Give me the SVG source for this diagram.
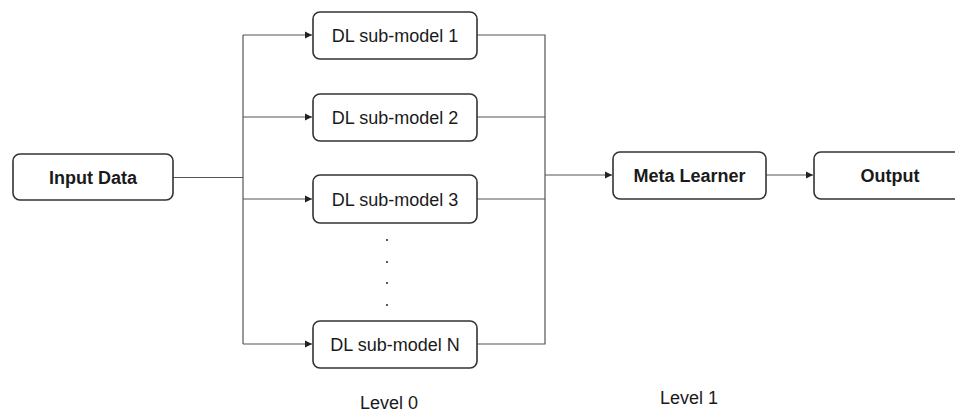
<svg xmlns="http://www.w3.org/2000/svg" width="955" height="413" viewBox="0 0 955 413">
<style>
.box{fill:#fff;stroke:#333;stroke-width:1.6}
.t{font-family:"Liberation Sans",Arial,sans-serif;font-size:18px;fill:#1a1a1a;text-anchor:middle}
.b{font-weight:bold}
.c{fill:none;stroke:#555;stroke-width:1.2}
.dot{fill:#222}
</style>
<defs>
<marker id="ah" markerWidth="8" markerHeight="8" refX="7" refY="4" orient="auto" markerUnits="userSpaceOnUse">
<path d="M0,0.5 L7,4 L0,7.5 Z" fill="#222"/>
</marker>
</defs>
<rect width="955" height="413" fill="#fff"/>
<g id="connectors">
<path class="c" d="M173,177.5 H243"/>
<path class="c" d="M243,35 V344"/>
<path class="c" d="M243,35 H312" marker-end="url(#ah)"/>
<path class="c" d="M243,117 H312" marker-end="url(#ah)"/>
<path class="c" d="M243,199 H312" marker-end="url(#ah)"/>
<path class="c" d="M243,344 H312" marker-end="url(#ah)"/>
<path class="c" d="M477,35 H545 V344 H477"/>
<path class="c" d="M477,117 H545"/>
<path class="c" d="M477,199 H545"/>
<path class="c" d="M545,175 H612" marker-end="url(#ah)"/>
<path class="c" d="M766,175 H813" marker-end="url(#ah)"/>
</g>
<g id="input">
<rect class="box" x="13" y="154" width="160" height="46" rx="7"/>
<text class="t b" x="93" y="183.5">Input Data</text>
</g>
<g id="sub1">
<rect class="box" x="313" y="12" width="164" height="47" rx="7"/>
<text class="t" x="395" y="42">DL sub-model 1</text>
</g>
<g id="sub2">
<rect class="box" x="313" y="94" width="164" height="47" rx="7"/>
<text class="t" x="395" y="124">DL sub-model 2</text>
</g>
<g id="sub3">
<rect class="box" x="313" y="175" width="164" height="48" rx="7"/>
<text class="t" x="395" y="206">DL sub-model 3</text>
</g>
<g id="dots">
<circle class="dot" cx="387" cy="240" r="1"/>
<circle class="dot" cx="387" cy="262" r="1"/>
<circle class="dot" cx="387" cy="283" r="1"/>
<circle class="dot" cx="387" cy="305" r="1"/>
</g>
<g id="subN">
<rect class="box" x="313" y="321" width="164" height="47" rx="7"/>
<text class="t" x="395" y="351">DL sub-model N</text>
</g>
<g id="meta">
<rect class="box" x="613" y="152" width="153" height="47" rx="7"/>
<text class="t b" x="689.5" y="182">Meta Learner</text>
</g>
<g id="output">
<rect class="box" x="814" y="152" width="152" height="47" rx="7"/>
<text class="t b" x="890" y="182">Output</text>
</g>
<g id="labels">
<text class="t" x="389" y="409">Level 0</text>
<text class="t" x="689" y="404">Level 1</text>
</g>
</svg>
